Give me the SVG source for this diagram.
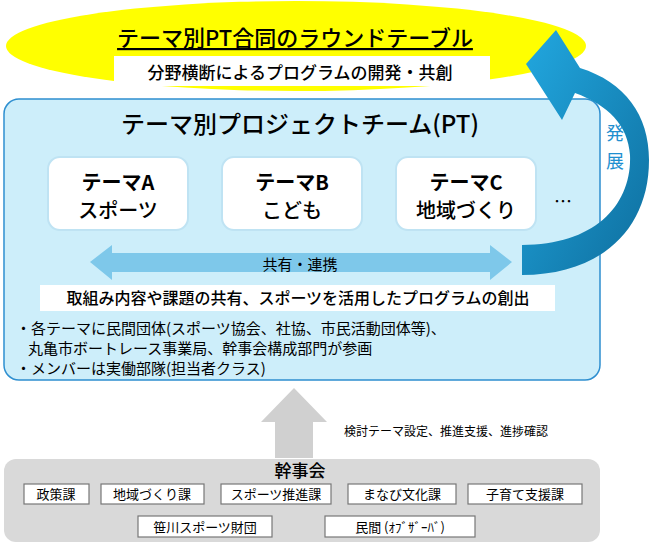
<svg xmlns="http://www.w3.org/2000/svg" width="650" height="544" viewBox="0 0 650 544">
<style>
text{font-family:"Noto Sans CJK JP","Liberation Sans",sans-serif;fill:#000;text-anchor:middle}
.theme{fill:#fff;stroke:#bfe3f3;stroke-width:2}
.sm{fill:#fff;stroke:#777;stroke-width:1.2}
.b{font-weight:bold}
</style>
<defs>
<linearGradient id="g" x1="0" y1="0" x2="1" y2="1"><stop offset="0" stop-color="#22a8e0"/><stop offset="1" stop-color="#0e6e9e"/></linearGradient>
</defs>
<g id="roundtable">
<ellipse cx="296" cy="46" rx="290" ry="45" fill="#ffff00"/>
<text x="295" y="46" font-size="22" font-weight="500" text-decoration="underline">テーマ別PT合同のラウンドテーブル</text>
<rect x="114" y="56" width="376" height="30" fill="#fff"/>
<text x="300" y="79" font-size="17" font-weight="500">分野横断によるプログラムの開発・共創</text>
</g>
<g id="pt">
<rect x="4" y="99" width="596" height="281" rx="15" fill="#cdeefa" stroke="#2e8fd0" stroke-width="1.5"/>
<text x="300" y="133" font-size="24" font-weight="500">テーマ別プロジェクトチーム(PT)</text>
</g>
<g id="themeA"><rect class="theme" x="48" y="157" width="140" height="73" rx="12"/><text x="118" y="190" font-size="20" class="b">テーマA</text><text x="118" y="218" font-size="20" font-weight="500">スポーツ</text></g>
<g id="themeB"><rect class="theme" x="222" y="157" width="140" height="73" rx="12"/><text x="292" y="190" font-size="20" class="b">テーマB</text><text x="292" y="218" font-size="20" font-weight="500">こども</text></g>
<g id="themeC"><rect class="theme" x="396" y="157" width="140" height="73" rx="12"/><text x="466" y="190" font-size="20" class="b">テーマC</text><text x="466" y="218" font-size="20" font-weight="500">地域づくり</text></g>
<text x="563" y="208" font-size="18">…</text>
<g id="connectors">
<path d="M90,262 L112,245 L112,253 L490,253 L490,245 L512,262 L490,280 L490,272 L112,272 L112,280 Z" fill="#7ec8ea"/>
<path d="M522,245 C595,245 632,205 630,155 C628,125 608,105 575,93 L562,120 L526,64 L556,30 L580,68 C625,82 649,115 649,160 C649,230 600,275 522,275 Z" fill="url(#g)"/>
<path d="M294,388 L327,422 L313,422 L313,458 L275,458 L275,422 L261,422 Z" fill="#d0d0d0"/>
</g>
<text x="300" y="270" font-size="15">共有・連携</text>
<rect x="40" y="285" width="515" height="26" fill="#fff"/>
<text x="298" y="304" font-size="16" font-weight="500">取組み内容や課題の共有、スポーツを活用したプログラムの創出</text>
<text x="16" y="334" font-size="15" style="text-anchor:start">・各テーマに民間団体(スポーツ協会、社協、市民活動団体等)、</text>
<text x="28" y="354" font-size="15" style="text-anchor:start">丸亀市ボートレース事業局、幹事会構成部門が参画</text>
<text x="16" y="374" font-size="15" style="text-anchor:start">・メンバーは実働部隊(担当者クラス)</text>
<text x="615" y="140" font-size="18" style="fill:#1e8fd0">発</text>
<text x="615" y="168" font-size="18" style="fill:#1e8fd0">展</text>
<text x="446" y="436" font-size="12">検討テーマ設定、推進支援、進捗確認</text>
<g id="kanji">
<rect x="4" y="459" width="596" height="83" rx="12" fill="#d9d9d9"/>
<text x="300" y="477" font-size="17" font-weight="500">幹事会</text>
<rect class="sm" x="24" y="484" width="65" height="20"/><text x="56" y="499" font-size="13">政策課</text>
<rect class="sm" x="101" y="484" width="103" height="20"/><text x="152" y="499" font-size="13">地域づくり課</text>
<rect class="sm" x="221" y="484" width="110" height="20"/><text x="276" y="499" font-size="13">スポーツ推進課</text>
<rect class="sm" x="348" y="484" width="108" height="20"/><text x="402" y="499" font-size="13">まなび文化課</text>
<rect class="sm" x="468" y="484" width="114" height="20"/><text x="525" y="499" font-size="13">子育て支援課</text>
<rect class="sm" x="138" y="516" width="134" height="21"/><text x="205" y="532" font-size="13">笹川スポーツ財団</text>
<rect class="sm" x="325" y="516" width="150" height="21"/><text x="400" y="532" font-size="13">民間 (ｵﾌﾞｻﾞｰﾊﾞ)</text>
</g>
</svg>
